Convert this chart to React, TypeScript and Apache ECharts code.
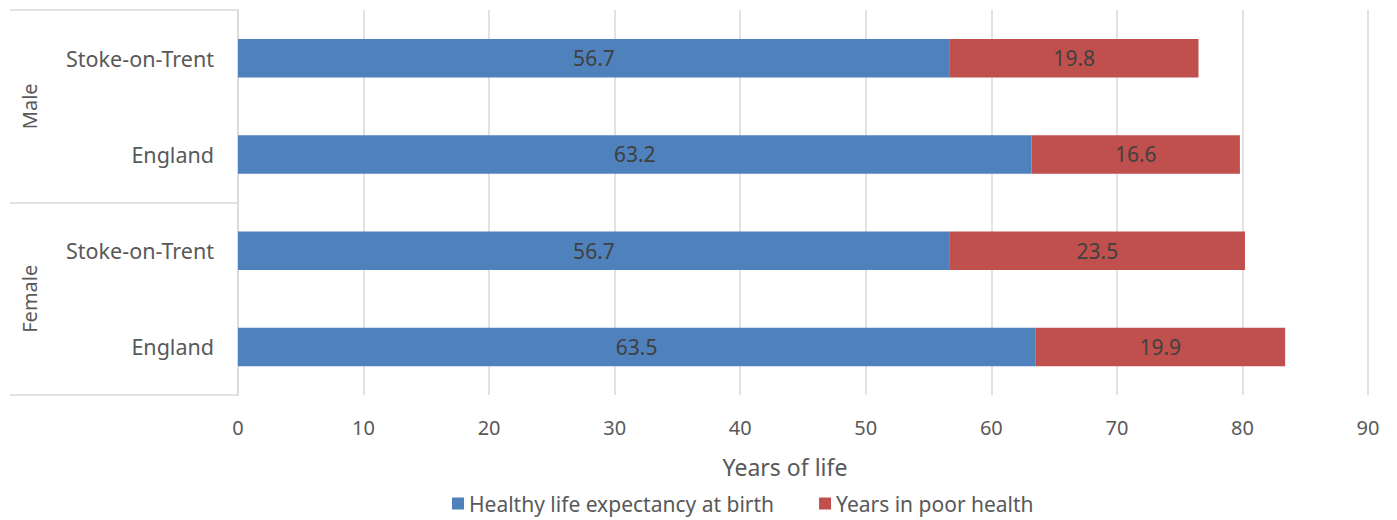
import React, { useEffect, useRef } from "react";
import * as echarts from "echarts";

const categories = ["Stoke-on-Trent", "England", "Stoke-on-Trent", "England"];
const groups = ["Male", "Female"];
const healthy = [56.7, 63.2, 56.7, 63.5];
const poorHealth = [19.8, 16.6, 23.5, 19.9];
const seriesNames = ["Healthy life expectancy at birth", "Years in poor health"];

const FONT = "'Noto Sans', sans-serif";
const GRAY = "#595959";

export default function App() {
  const ref = useRef<HTMLDivElement>(null);
  useEffect(() => {
    if (!ref.current) return;
    const chart = echarts.init(ref.current, undefined, { renderer: "svg" });
    chart.setOption({
      animation: false,
      textStyle: { fontFamily: FONT },
      grid: { left: 238, right: 29, top: 10, bottom: 125, containLabel: false },
      legend: {
        bottom: 1,
        left: 447,
        itemWidth: 12,
        itemHeight: 12,
        itemGap: 45,
        icon: "rect",
        textStyle: { color: GRAY, fontSize: 21, fontFamily: FONT },
        data: seriesNames,
      },
      xAxis: {
        type: "value",
        min: 0,
        max: 90,
        interval: 10,
        name: "Years of life",
        nameLocation: "middle",
        nameGap: 60,
        nameTextStyle: {
          color: GRAY,
          fontSize: 23,
          fontFamily: FONT,
          padding: [0, 36, 0, 0],
        },
        axisLine: { show: false },
        axisTick: { show: false },
        axisLabel: { color: GRAY, fontSize: 20, margin: 22, fontFamily: FONT },
        splitLine: { lineStyle: { color: "#d9d9d9", width: 1.5 } },
      },
      yAxis: [
        {
          type: "category",
          data: categories,
          inverse: true,
          axisLine: { show: true, lineStyle: { color: "#d9d9d9", width: 1.5 } },
          axisTick: { show: false },
          axisLabel: { color: GRAY, fontSize: 21.5, margin: 24, fontFamily: FONT },
        },
        {
          type: "category",
          data: groups,
          inverse: true,
          position: "left",
          axisLine: { show: false },
          axisTick: {
            show: true,
            length: 228,
            lineStyle: { color: "#d9d9d9", width: 1.5 },
          },
          axisLabel: {
            color: GRAY,
            fontSize: 20,
            rotate: 90,
            margin: 199,
            fontFamily: FONT,
          },
        },
      ],
      series: [
        {
          name: seriesNames[0],
          type: "bar",
          stack: "total",
          yAxisIndex: 0,
          barWidth: "40%",
          data: healthy,
          itemStyle: { color: "#4F81BD" },
          label: {
            show: true,
            position: "inside",
            color: "#404040",
            fontSize: 21,
            fontFamily: FONT,
            formatter: (p: any) => p.value.toFixed(1),
          },
        },
        {
          name: seriesNames[1],
          type: "bar",
          stack: "total",
          yAxisIndex: 0,
          barWidth: "40%",
          data: poorHealth,
          itemStyle: { color: "#C0504D" },
          label: {
            show: true,
            position: "inside",
            color: "#404040",
            fontSize: 21,
            fontFamily: FONT,
            formatter: (p: any) => p.value.toFixed(1),
          },
        },
      ],
    });
    return () => chart.dispose();
  }, []);
  return <div ref={ref} style={{ width: 1397, height: 520, position: "absolute", left: 0, top: 0 }} />;
}
